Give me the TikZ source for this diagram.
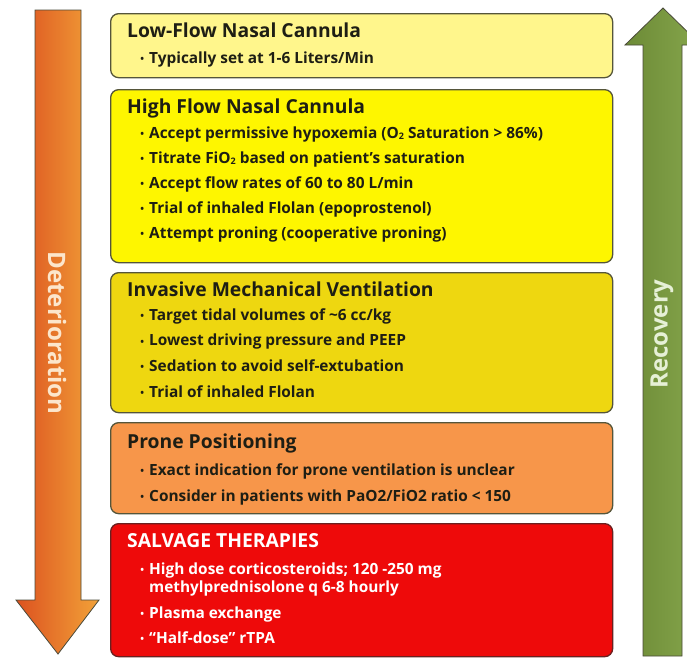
\documentclass[tikz,border=0pt]{standalone}
\usepackage{fontspec}
\setmainfont{Open Sans}
\definecolor{c1}{HTML}{FFF68C}
\definecolor{c2}{HTML}{FEF600}
\definecolor{c3}{HTML}{EED710}
\definecolor{c4}{HTML}{F7964A}
\definecolor{c5}{HTML}{EE0A0A}
\definecolor{boxline}{HTML}{55553A}
\definecolor{redline}{HTML}{6A2020}
\definecolor{txt}{HTML}{1E1E14}
\definecolor{detL}{HTML}{DC5220}
\definecolor{detR}{HTML}{F2A238}
\definecolor{detText}{HTML}{FCE6CC}
\definecolor{recL}{HTML}{6C8A36}
\definecolor{recR}{HTML}{86A64C}
\definecolor{recText}{HTML}{E6F0D6}
\definecolor{arrline}{HTML}{4A4A3A}
\newcommand\bulmark{\makebox[0pt][r]{\raisebox{0.5pt}{\fontsize{10}{10}\selectfont •}\hspace{5pt}}}
\newcommand\subtwo{\raisebox{-1.5pt}{\fontsize{9}{9}\selectfont 2}}
\tikzset{
  box/.style={draw=boxline, line width=1.3pt, rounded corners=8pt, anchor=north west, inner sep=0pt, minimum width=502pt},
  ttl/.style={anchor=base west, inner sep=0pt, text=txt, font=\bfseries\fontsize{19.3}{20}\selectfont},
  itm/.style={anchor=base west, inner sep=0pt, text=txt, font=\bfseries\fontsize{15.4}{18}\selectfont, align=left},
  arrtext/.style={inner sep=0pt, font=\bfseries\fontsize{24}{24}\selectfont}
}
\begin{document}
\begin{tikzpicture}[x=1pt,y=-1pt]
\useasboundingbox (0,0) rectangle (687,657);
\fill[white] (0,0) rectangle (687,657);
% Deterioration arrow
\draw[draw=arrline, line width=0.8pt, left color=detL, right color=detR]
  (35,10) -- (81,10) -- (81,600) -- (99,600) -- (58,654) -- (16,600) -- (35,600) -- cycle;
\node[arrtext, rotate=-90, text=detText] (det) at (57,333) {Deterioration};
% Recovery arrow
\draw[draw=arrline, line width=0.8pt, left color=recL, right color=recR]
  (643,656) -- (643,45) -- (625,45) -- (663,8) -- (701,45) -- (682,45) -- (682,656) -- cycle;
\node[arrtext, rotate=90, text=recText] (rec) at (662,334) {Recovery};
% Boxes
\node[box, fill=c1, minimum height=64pt] (b1) at (110,13) {};
\node[box, fill=c2, minimum height=173pt] (b2) at (110,89) {};
\node[box, fill=c3, minimum height=140pt] (b3) at (110,272) {};
\node[box, fill=c4, minimum height=91pt] (b4) at (110,422) {};
\node[box, fill=c5, draw=redline, minimum height=133pt] (b5) at (110,523) {};
% Box 1
\node[ttl] (t1) at (127,37) {Low-Flow Nasal Cannula};
\node[itm] (t1a) at (149,63) {\bulmark Typically set at 1-6 Liters/Min};
% Box 2
\node[ttl] (t2) at (127,113) {High Flow Nasal Cannula};
\node[itm] (t2a) at (149,138) {\bulmark Accept permissive hypoxemia (O\subtwo\ Saturation > 86\%)};
\node[itm] (t2b) at (149,163) {\bulmark Titrate FiO\subtwo\ based on patient’s saturation};
\node[itm] (t2c) at (149,188) {\bulmark Accept flow rates of 60 to 80 L/min};
\node[itm] (t2d) at (149,213) {\bulmark Trial of inhaled Flolan (epoprostenol)};
\node[itm] (t2e) at (149,238) {\bulmark Attempt proning (cooperative proning)};
% Box 3
\node[ttl] (t3) at (127,296) {Invasive Mechanical Ventilation};
\node[itm] (t3a) at (149,320) {\bulmark Target tidal volumes of \textasciitilde6 cc/kg};
\node[itm] (t3b) at (149,345.5) {\bulmark Lowest driving pressure and PEEP};
\node[itm] (t3c) at (149,371) {\bulmark Sedation to avoid self-extubation};
\node[itm] (t3d) at (149,397) {\bulmark Trial of inhaled Flolan};
% Box 4
\node[ttl] (t4) at (127,448) {Prone Positioning};
\node[itm] (t4a) at (149,475) {\bulmark Exact indication for prone ventilation is unclear};
\node[itm] (t4b) at (149,501) {\bulmark Consider in patients with PaO2/FiO2 ratio < 150};
% Box 5
\node[ttl, text=white] (t5) at (127,547) {SALVAGE THERAPIES};
\node[itm, text=white] (t5a) at (149,574) {\bulmark High dose corticosteroids; 120 -250 mg};
\node[itm, text=white] (t5b) at (149,592) {methylprednisolone q 6-8 hourly};
\node[itm, text=white] (t5c) at (149,618) {\bulmark Plasma exchange};
\node[itm, text=white] (t5d) at (149,643) {\bulmark “Half-dose” rTPA};
\end{tikzpicture}
\end{document}
